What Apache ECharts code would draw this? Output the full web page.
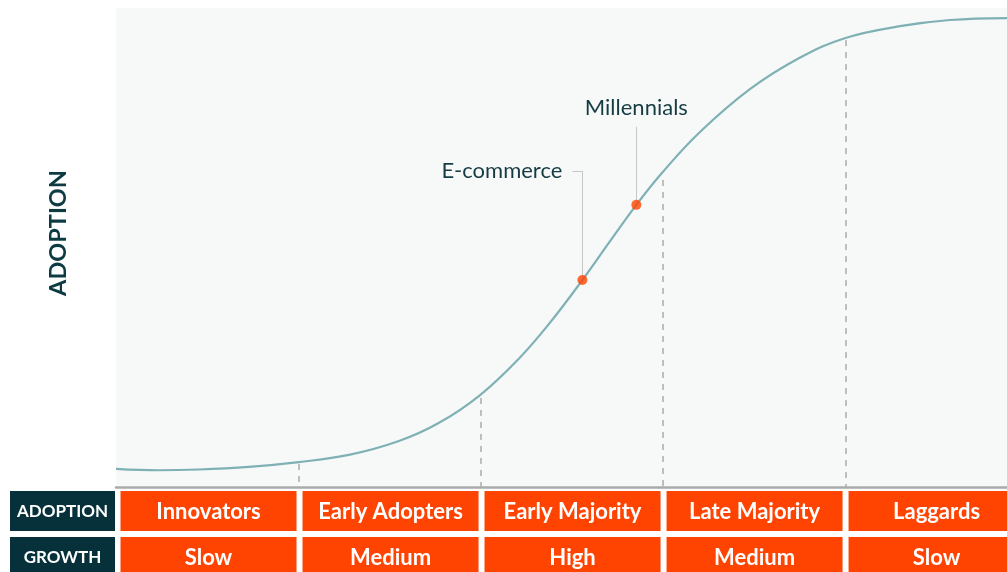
<!DOCTYPE html>
<html>
<head>
<meta charset="utf-8">
<script src="https://cdn.jsdelivr.net/npm/echarts@6/dist/echarts.min.js"></script>
<style>
  html, body { margin: 0; padding: 0; background: #fff; }
  #chart { width: 1007px; height: 572px; }
</style>
</head>
<body>
<div id="chart"></div>
<script>
  // adoption curve, x = position along the stages (1 unit per stage), y = adoption %
  const curveX = [0, 0.234, 0.453, 0.728, 1.003, 1.277, 1.552, 1.772, 1.997, 2.212, 2.376, 2.558, 2.706, 2.854, 3.0, 3.2, 3.475, 3.75, 3.997, 4.3, 4.574, 4.887];
  const curveY = [3.8, 3.5, 3.65, 4.2, 5.2, 6.7, 9.6, 13.4, 19.2, 26.9, 34.1, 43.2, 51.1, 58.9, 65.8, 74.0, 83.0, 89.6, 93.7, 96.2, 97.5, 97.9];

  // stage boundaries (dashed lines) and where the curve sits there
  const boundaryX = [1, 2, 3, 4];
  const boundaryTop = [4.8, 18.6, 64.1, 93.3];

  // highlighted points
  const pointNames = ['E-commerce', 'Millennials'];
  const pointX = [2.558, 2.854];
  const pointY = [43.2, 58.9];
  const labelY = [66.0, 75.2];

  // table below the chart
  const rowLabels = ['ADOPTION', 'GROWTH'];
  const stages = ['Innovators', 'Early Adopters', 'Early Majority', 'Late Majority', 'Laggards'];
  const growth = ['Slow', 'Medium', 'High', 'Medium', 'Slow'];

  const font = 'Lato, "Open Sans", sans-serif';
  const orange = '#ff4300';
  const dark = '#06313a';

  const myChart = echarts.init(document.getElementById('chart'));

  // markLines: dashed stage dividers + leader lines to the labels
  const markData = [];
  for (var i = 0; i < boundaryX.length; i++) {
    markData.push([
      { coord: [boundaryX[i], boundaryTop[i]], lineStyle: { color: '#aaaaaa', width: 1.5, type: [6, 6] } },
      { coord: [boundaryX[i], 0] }
    ]);
  }
  // E-commerce: vertical up then short horizontal to the left
  markData.push([
    { coord: [pointX[0], pointY[0]], lineStyle: { color: '#c4c8c8', width: 1, type: 'solid' } },
    { coord: [pointX[0], labelY[0]] }
  ]);
  markData.push([
    { coord: [pointX[0], labelY[0]], lineStyle: { color: '#c4c8c8', width: 1, type: 'solid' } },
    { coord: [2.503, labelY[0]], label: { show: true, position: 'end', formatter: pointNames[0], distance: 10,
        color: '#163c43', fontSize: 22, fontFamily: font } }
  ]);
  // Millennials: vertical up
  markData.push([
    { coord: [pointX[1], pointY[1]], lineStyle: { color: '#c4c8c8', width: 1, type: 'solid' } },
    { coord: [pointX[1], labelY[1]], label: { show: true, position: 'end', formatter: pointNames[1], distance: 8,
        color: '#163c43', fontSize: 22, fontFamily: font } }
  ]);

  // table cells: [start, end, row]
  const cells = [];
  for (var r = 0; r < rowLabels.length; r++) {
    cells.push({ v: [-0.5907, 0, r], text: rowLabels[r], head: true });
    for (var s = 0; s < stages.length; s++) {
      cells.push({ v: [s, s + 1, r], text: r === 0 ? stages[s] : growth[s], head: false });
    }
  }

  // table y axis is in pixels below the plot: each row 40 tall, 6 gap
  function renderCell(params, api) {
    const c = cells[params.dataIndex];
    const row = api.value(2);
    const p0 = api.coord([api.value(0), row * 46]);
    const p1 = api.coord([api.value(1), row * 46 + 40]);
    const l = c.head ? p0[0] : p0[0] + 3;
    const rr = c.head ? p1[0] - 2.5 : p1[0] - 3;
    return {
      type: 'group',
      children: [
        { type: 'rect', shape: { x: l, y: p0[1], width: rr - l, height: p1[1] - p0[1] },
          style: { fill: c.head ? dark : orange } },
        { type: 'text', x: (l + rr) / 2, y: (p0[1] + p1[1]) / 2 + 1,
          style: { text: c.text, fill: '#ffffff', align: 'center', verticalAlign: 'middle',
                   font: c.head ? ('bold 17px ' + font) : ('bold 22px ' + font) } }
      ]
    };
  }

  const option = {
    animation: false,
    grid: [
      { left: 116, right: 0, top: 8, bottom: 85, show: true, backgroundColor: '#f7f9f9', borderWidth: 0 },
      { left: 10, right: 0, top: 491, bottom: 0 }
    ],
    xAxis: [
      { type: 'value', min: 0, max: 4.887, gridIndex: 0,
        axisLine: { show: true, lineStyle: { color: '#aaaaaa', width: 2.5 } },
        axisTick: { show: false }, axisLabel: { show: false }, splitLine: { show: false } },
      { type: 'value', min: -0.5907, max: 4.887, gridIndex: 1,
        axisLine: { show: false }, axisTick: { show: false }, axisLabel: { show: false }, splitLine: { show: false } }
    ],
    yAxis: [
      { type: 'value', min: 0, max: 100, gridIndex: 0,
        name: 'ADOPTION', nameLocation: 'middle', nameRotate: 90, nameGap: 46,
        nameTextStyle: { color: '#0e3b42', fontSize: 23.5, fontWeight: 'bold', fontFamily: font, padding: [0, 0, 0, 29] },
        axisLine: { show: false }, axisTick: { show: false }, axisLabel: { show: false }, splitLine: { show: false } },
      { type: 'value', min: 0, max: 81, inverse: true, gridIndex: 1,
        axisLine: { show: false }, axisTick: { show: false }, axisLabel: { show: false }, splitLine: { show: false } }
    ],
    series: [
      {
        name: 'curve',
        type: 'line',
        xAxisIndex: 0, yAxisIndex: 0,
        data: curveX.map(function (x, i) { return [x, curveY[i]]; }),
        smooth: 0.4,
        showSymbol: false,
        lineStyle: { color: '#7fb1b4', width: 2.2 },
        z: 3,
        markLine: {
          silent: true,
          symbol: 'none',
          label: { show: false },
          data: markData,
          z: 2
        }
      },
      {
        name: 'points',
        type: 'scatter',
        xAxisIndex: 0, yAxisIndex: 0,
        data: pointX.map(function (x, i) { return [x, pointY[i]]; }),
        symbolSize: 10,
        itemStyle: { color: orange },
        z: 5
      },
      {
        name: 'table',
        type: 'custom',
        xAxisIndex: 1, yAxisIndex: 1,
        data: cells.map(function (c) { return c.v; }),
        renderItem: renderCell,
        clip: false
      }
    ]
  };

  myChart.setOption(option);
</script>
</body>
</html>
